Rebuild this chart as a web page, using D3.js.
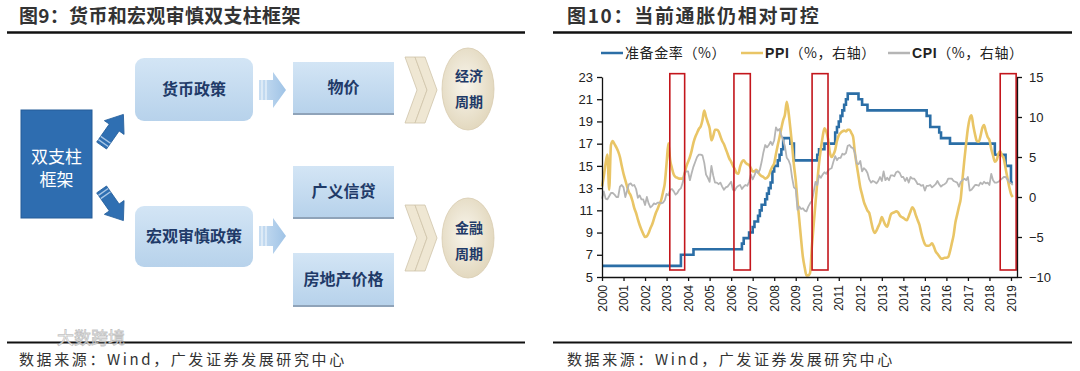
<!DOCTYPE html>
<html>
<head>
<meta charset="utf-8">
<script src="https://cdn.jsdelivr.net/npm/d3@7"></script>
<style>
  body { margin: 0; background: #fff; }
  svg { display: block; }
</style>
</head>
<body>
<svg id="page" width="1080" height="371"></svg>
<script>
"use strict";

// ---------- chart data ----------
const yearTicks = [2000, 2001, 2002, 2003, 2004, 2005, 2006, 2007, 2008, 2009,
  2010, 2011, 2012, 2013, 2014, 2015, 2016, 2017, 2018, 2019];
const leftTicks = [5, 7, 9, 11, 13, 15, 17, 19, 21, 23];
const rightTicks = [-10, -5, 0, 5, 10, 15];

// monthly, first value = 2000-01
const ppi = [
  1.3, 2.6, 4.2, 5.3, 0.9, 6.5, 7.0, 6.6, 6.2, 5.7, 5.0, 3.9,
  2.9, 2.1, 1.3, 0.6, 0.2, -0.5, -1.4, -2.0, -2.8, -3.5, -4.1, -4.6,
  -5.0, -4.9, -4.5, -3.9, -3.4, -2.7, -2.0, -1.5, -0.9, -0.4, 0.6, 1.7,
  4.2, 6.7, 4.6, 3.6, 2.8, 2.5, 2.4, 2.3, 2.3, 2.3, 2.9, 3.8,
  4.4, 5.0, 5.8, 6.8, 7.5, 8.0, 8.5, 8.8, 9.6, 10.8, 10.0, 9.3,
  8.6, 7.1, 7.6, 8.4, 8.4, 8.2, 7.6, 7.0, 6.6, 6.0, 5.4, 4.8,
  4.4, 3.9, 3.5, 3.0, 2.9, 3.8, 4.4, 4.6, 4.3, 4.1, 4.0, 3.6,
  3.2, 3.2, 3.4, 3.1, 2.8, 2.6, 2.5, 2.3, 2.4, 2.7, 3.3, 3.8,
  4.2, 5.4, 6.5, 7.5, 8.6, 9.6, 10.3, 11.9, 10.6, 8.6, 6.4, 4.0,
  2.1, -0.5, -2.9, -5.3, -7.5, -8.8, -9.8, -9.8, -9.5, -6.2, -3.5, -0.8,
  1.8, 4.2, 6.0, 7.5, 8.6, 8.2, 7.3, 5.6, 5.0, 5.3, 5.9, 7.0,
  7.7, 8.0, 8.2, 8.3, 8.2, 8.4, 8.4, 8.0, 7.5, 5.5, 4.0, 2.6,
  1.2, 0.3, -0.6, -1.2, -1.7, -2.0, -3.0, -4.0, -4.5, -4.2, -3.7, -3.2,
  -2.5, -3.0, -3.5, -3.7, -3.0, -2.2, -2.0, -1.9, -1.8, -1.9, -2.3, -2.5,
  -2.6, -2.8, -2.9, -2.4, -1.8, -1.3, -1.6, -2.3, -2.9, -3.5, -4.5, -5.3,
  -5.9, -6.1, -6.1, -6.0, -5.8, -6.2, -6.8, -7.1, -7.4, -7.7, -7.7, -7.6,
  -7.6, -7.5, -6.8, -5.8, -4.8, -3.2, -2.2, -1.2, -0.2, 2.3, 4.6, 6.7,
  8.6, 9.8, 10.2, 8.9, 7.8, 7.0, 6.9, 7.6, 8.6, 9.0, 8.2, 7.5,
  7.1, 6.0, 5.2, 4.4, 4.6, 5.4, 5.7, 5.2, 4.8, 3.6, 2.4, 1.3,
  0.4, 0.0
];

const cpi = [
  -0.2, 0.7, -0.2, -0.3, 0.1, 0.5, 0.5, 0.3, 0.0, 0.0, 1.3, 1.5,
  1.2, 0.0, 0.8, 1.6, 1.7, 1.4, 1.5, 1.0, -0.1, 0.2, -0.3, -0.3,
  -1.0, 0.0, -0.8, -1.3, -1.1, -0.8, -0.9, -0.7, -0.7, -0.8, -0.7, -0.4,
  0.4, 0.2, 0.9, 1.0, 0.7, 0.3, 0.5, 0.9, 1.1, 1.8, 3.0, 3.2,
  3.2, 2.1, 3.0, 3.8, 4.4, 5.0, 5.3, 5.3, 5.2, 4.3, 2.8, 2.4,
  1.9, 3.9, 2.7, 1.8, 1.8, 1.6, 1.8, 1.3, 0.9, 1.2, 1.3, 1.6,
  1.9, 0.9, 0.8, 1.2, 1.4, 1.5, 1.0, 1.3, 1.5, 1.4, 1.9, 2.8,
  2.2, 2.7, 3.3, 3.0, 3.4, 4.4, 5.6, 6.5, 6.2, 6.5, 6.9, 6.5,
  7.1, 8.7, 8.3, 8.5, 7.7, 7.1, 6.3, 4.9, 4.6, 4.0, 2.4, 1.2,
  1.0, -1.6, -1.2, -1.5, -1.4, -1.7, -1.8, -1.2, -0.8, -0.5, 0.6, 1.9,
  1.5, 2.7, 2.4, 2.8, 3.1, 2.9, 3.3, 3.5, 3.6, 4.4, 5.1, 4.6,
  4.9, 4.9, 5.4, 5.3, 5.5, 6.4, 6.5, 6.2, 6.1, 5.5, 4.2, 4.1,
  4.5, 3.2, 3.6, 3.4, 3.0, 2.2, 1.8, 2.0, 1.9, 1.7, 2.0, 2.5,
  2.0, 3.2, 2.1, 2.4, 2.1, 2.7, 2.7, 2.6, 3.1, 3.2, 3.0, 2.5,
  2.5, 2.0, 2.4, 1.8, 2.5, 2.3, 2.3, 2.0, 1.6, 1.6, 1.4, 1.5,
  0.8, 1.4, 1.4, 1.5, 1.2, 1.4, 1.6, 2.0, 1.6, 1.3, 1.5, 1.6,
  1.8, 2.3, 2.3, 2.3, 2.0, 1.9, 1.8, 1.3, 1.9, 2.1, 2.3, 2.1,
  2.5, 0.8, 0.9, 1.2, 1.5, 1.5, 1.4, 1.8, 1.6, 1.9, 1.7, 1.8,
  1.5, 2.9, 2.1, 1.8, 1.8, 1.9, 2.1, 2.3, 2.5, 2.5, 2.2, 1.9,
  1.7, 1.5
];

// reserve ratio: month of each change and the new level
const rrrDates = ["2000-01", "2003-09", "2004-04", "2006-07", "2006-08", "2006-11",
  "2007-01", "2007-02", "2007-04", "2007-05", "2007-06", "2007-08", "2007-09",
  "2007-10", "2007-11", "2007-12", "2008-01", "2008-03", "2008-04", "2008-05",
  "2008-06", "2008-10", "2008-12", "2010-01", "2010-02", "2010-05", "2010-11",
  "2010-12", "2011-01", "2011-02", "2011-03", "2011-04", "2011-05", "2011-06",
  "2011-12", "2012-02", "2012-05", "2015-02", "2015-04", "2015-09", "2015-10",
  "2016-03", "2018-04", "2018-10", "2019-01", "2019-02"];
const rrrValues = [6.0, 7.0, 7.5, 8.0, 8.5, 9.0,
  9.5, 10.0, 10.5, 11.0, 11.5, 12.0, 12.5,
  13.0, 13.5, 14.5, 15.0, 15.5, 16.0, 16.5,
  17.5, 17.0, 15.5, 16.0, 16.5, 17.0, 18.0,
  18.5, 19.0, 19.5, 20.0, 20.5, 21.0, 21.5,
  21.0, 20.5, 20.0, 19.5, 18.5, 18.0, 17.5,
  17.0, 16.0, 15.0, 13.5, 13.5];

// red boxes (decimal years) and their extent on the left axis
const boxStart = [2003.15, 2006.13, 2009.76, 2018.5];
const boxEnd = [2003.84, 2006.89, 2010.5, 2019.24];
const boxTop = 23.3;
const boxBottom = 5.63;

const legendLabels = ["准备金率（%）", "PPI（%，右轴）", "CPI（%，右轴）"];
const colors = { rrr: "#2b6ea6", ppi: "#e9c566", cpi: "#b5b5b5", box: "#c3161c" };

const CJK = "'Noto Sans CJK SC', sans-serif";
const LAT = "'Liberation Sans', Arial, sans-serif";

const svg = d3.select("#page");

// ---------- page frame: titles, rules, sources ----------
function frame(x0, x1, title, titleSize, spacing, tx) {
  svg.append("text")
    .attr("x", tx).attr("y", 23)
    .attr("font-family", CJK).attr("font-weight", "bold")
    .attr("font-size", titleSize).attr("letter-spacing", spacing)
    .attr("fill", "#333")
    .text(title);
  svg.append("line")
    .attr("x1", x0).attr("x2", x1).attr("y1", 32.5).attr("y2", 32.5)
    .attr("stroke", "#111").attr("stroke-width", 2.5);
  svg.append("line")
    .attr("x1", x0).attr("x2", x1).attr("y1", 342.5).attr("y2", 342.5)
    .attr("stroke", "#111").attr("stroke-width", 2);
  svg.append("text")
    .attr("x", tx).attr("y", 365)
    .attr("font-family", CJK).attr("font-size", 15).attr("letter-spacing", 2.6)
    .attr("fill", "#333")
    .text("数据来源：Wind，广发证券发展研究中心");
}
frame(7, 525, "图9：货币和宏观审慎双支柱框架", 19, 0.3, 19);
frame(553, 1072, "图10：当前通胀仍相对可控", 19, 1.7, 567);

// ---------- left: framework diagram ----------
const defs = svg.append("defs");
const lg = defs.append("linearGradient").attr("id", "boxGrad").attr("x1", 0).attr("y1", 0).attr("x2", 0).attr("y2", 1);
lg.append("stop").attr("offset", "0%").attr("stop-color", "#d3e5f5");
lg.append("stop").attr("offset", "100%").attr("stop-color", "#b7d2eb");
const rg = defs.append("radialGradient").attr("id", "circGrad").attr("cx", "45%").attr("cy", "45%").attr("r", "60%");
rg.append("stop").attr("offset", "0%").attr("stop-color", "#f8f5ec");
rg.append("stop").attr("offset", "100%").attr("stop-color", "#e1d6bb");
const ag = defs.append("linearGradient").attr("id", "arrGrad").attr("x1", 0).attr("y1", 0).attr("x2", 1).attr("y2", 0);
ag.append("stop").attr("offset", "0%").attr("stop-color", "#c9def2");
ag.append("stop").attr("offset", "100%").attr("stop-color", "#9fc3e6");

const diagram = svg.append("g").attr("font-family", CJK);

// main dark box
diagram.append("rect")
  .attr("x", 21).attr("y", 110).attr("width", 71).attr("height", 108)
  .attr("fill", "#2e6db0").attr("stroke", "#245c98").attr("stroke-width", 1);
[["双支柱", 163], ["框架", 186]].forEach(([t, y]) => {
  diagram.append("text")
    .attr("x", 56.5).attr("y", y).attr("text-anchor", "middle")
    .attr("font-size", 17).attr("fill", "#fff").text(t);
});

// blue diagonal arrows
function blockArrow(cx, cy, angle) {
  const g = diagram.append("g").attr("transform", `translate(${cx},${cy}) rotate(${angle})`);
  g.append("polygon")
    .attr("points", "-19,-6 3,-6 3,-12 19,0 3,12 3,6 -19,6")
    .attr("fill", "#2f6fb2").attr("stroke", "#27609c").attr("stroke-width", 0.8);
  [-16, -12].forEach(px => {
    g.append("line").attr("x1", px).attr("x2", px).attr("y1", -6).attr("y2", 6)
      .attr("stroke", "#a9c7e6").attr("stroke-width", 1.4);
  });
}
blockArrow(112.5, 130, -55);
blockArrow(112.5, 205, 55);

// light boxes
const boxes = [
  { label: "货币政策", x: 135, y: 58, w: 118, h: 63, r: 9 },
  { label: "宏观审慎政策", x: 135, y: 206, w: 118, h: 61, r: 9 },
  { label: "物价", x: 293, y: 62, w: 101, h: 51, r: 0 },
  { label: "广义信贷", x: 293, y: 166, w: 101, h: 51, r: 0 },
  { label: "房地产价格", x: 293, y: 253, w: 101, h: 52, r: 0 }
];
boxes.forEach(b => {
  if (b.r === 0) {
    diagram.append("rect")
      .attr("x", b.x).attr("y", b.y + 2).attr("width", b.w).attr("height", b.h)
      .attr("fill", "#8fa3b9");
  }
  diagram.append("rect")
    .attr("x", b.x).attr("y", b.y).attr("width", b.w).attr("height", b.h)
    .attr("rx", b.r).attr("fill", "url(#boxGrad)");
  diagram.append("text")
    .attr("x", b.x + b.w / 2).attr("y", b.y + b.h / 2 + 5.5)
    .attr("text-anchor", "middle").attr("font-size", 16).attr("font-weight", "bold")
    .attr("fill", "#1f3a68")
    .text(b.label);
});

// light right-pointing arrows
[90, 236].forEach(cy => {
  const g = diagram.append("g").attr("transform", `translate(259,${cy})`);
  g.append("polygon")
    .attr("points", "0,-10 14,-10 14,-18 27,0 14,18 14,10 0,10")
    .attr("fill", "url(#arrGrad)");
  [3, 7].forEach(px => {
    g.append("line").attr("x1", px).attr("x2", px).attr("y1", -10).attr("y2", 10)
      .attr("stroke", "#eef5fb").attr("stroke-width", 1.2);
  });
});

// double chevrons
[90, 238].forEach(cy => {
  const hh = 33;
  [0, 10].forEach(dx => {
    const x0 = 405 + dx;
    diagram.append("polygon")
      .attr("points", [[x0, cy - hh], [x0 + 10, cy - hh], [x0 + 22, cy], [x0 + 10, cy + hh], [x0, cy + hh], [x0 + 12, cy]].map(p => p.join(",")).join(" "))
      .attr("fill", "#efe7d3").attr("stroke", "#cfc4a9").attr("stroke-width", 0.8);
  });
});

// cycle ellipses
[{ cy: 89, ry: 41, lines: ["经济", "周期"], ty: [81, 107] },
 { cy: 238, ry: 40, lines: ["金融", "周期"], ty: [233, 259] }].forEach(c => {
  diagram.append("ellipse")
    .attr("cx", 468).attr("cy", c.cy).attr("rx", 26).attr("ry", c.ry)
    .attr("fill", "url(#circGrad)").attr("stroke", "#d8ccb0").attr("stroke-width", 0.8);
  c.lines.forEach((t, i) => {
    diagram.append("text")
      .attr("x", 469).attr("y", c.ty[i]).attr("text-anchor", "middle")
      .attr("font-size", 14).attr("font-weight", "bold").attr("fill", "#1f3a68").text(t);
  });
});

// faint watermark, kept above the source line
svg.append("text")
  .attr("x", 57).attr("y", 344)
  .attr("font-family", CJK).attr("font-size", 17)
  .attr("fill", "#fff").attr("fill-opacity", 0.8)
  .attr("stroke", "#999").attr("stroke-opacity", 0.6).attr("stroke-width", 0.8)
  .text("大数跨境");

// ---------- right: line chart ----------
const X0 = 602, X1 = 1017, YT = 77, YB = 277;
const x = d3.scaleLinear().domain([2000, 2019.28]).range([X0, X1]);
const yL = d3.scaleLinear().domain([5, 23]).range([YB, YT]);
const yR = d3.scaleLinear().domain([-10, 15]).range([YB, YT]);

const monthT = i => 2000 + i / 12;
const dateT = s => { const [yy, mm] = s.split("-").map(Number); return yy + (mm - 1) / 12; };

const plot = svg.append("g");

plot.append("path")
  .datum(rrrValues.map((v, i) => [dateT(rrrDates[i]), v]))
  .attr("fill", "none").attr("stroke", colors.rrr).attr("stroke-width", 2.6)
  .attr("d", d3.line().x(d => x(d[0])).y(d => yL(d[1])).curve(d3.curveStepAfter));

plot.append("path")
  .datum(ppi)
  .attr("fill", "none").attr("stroke", colors.ppi).attr("stroke-width", 2.6)
  .attr("stroke-linejoin", "round")
  .attr("d", d3.line().x((d, i) => x(monthT(i))).y(d => yR(d)).curve(d3.curveMonotoneX));

plot.append("path")
  .datum(cpi)
  .attr("fill", "none").attr("stroke", colors.cpi).attr("stroke-width", 1.8)
  .attr("stroke-linejoin", "round")
  .attr("d", d3.line().x((d, i) => x(monthT(i))).y(d => yR(d)));

plot.selectAll("rect.box")
  .data(boxStart.map((s, i) => [s, boxEnd[i]]))
  .enter().append("rect")
  .attr("class", "box")
  .attr("x", d => x(d[0])).attr("width", d => x(d[1]) - x(d[0]))
  .attr("y", yL(boxTop)).attr("height", yL(boxBottom) - yL(boxTop))
  .attr("fill", "none").attr("stroke", colors.box).attr("stroke-width", 1.6);

function styleAxis(g, size) {
  g.attr("font-family", LAT).attr("font-size", size);
  g.selectAll("path, line").attr("stroke", "#111").attr("stroke-width", 1.3);
  g.selectAll("text").attr("fill", "#222");
}

const gx = svg.append("g")
  .attr("transform", `translate(0,${YB})`)
  .call(d3.axisBottom(x).tickValues(yearTicks).tickFormat(d3.format("d")).tickSize(4).tickSizeOuter(0));
gx.selectAll("text")
  .attr("transform", "rotate(-90)")
  .attr("x", -8).attr("y", 0).attr("dy", "0.35em")
  .style("text-anchor", "end");
styleAxis(gx, 12);

const gl = svg.append("g")
  .attr("transform", `translate(${X0},0)`)
  .call(d3.axisLeft(yL).tickValues(leftTicks).tickSize(5).tickPadding(4).tickSizeOuter(0));
styleAxis(gl, 13);

const gr = svg.append("g")
  .attr("transform", `translate(${X1},0)`)
  .call(d3.axisRight(yR).tickValues(rightTicks).tickSize(5).tickPadding(7).tickSizeOuter(0));
styleAxis(gr, 13);

// legend
const legendX = [601, 741, 888];
const legendColors = [colors.rrr, colors.ppi, colors.cpi];
const legend = svg.append("g");
legendLabels.forEach((label, i) => {
  legend.append("line")
    .attr("x1", legendX[i]).attr("x2", legendX[i] + 22).attr("y1", 53).attr("y2", 53)
    .attr("stroke", legendColors[i]).attr("stroke-width", 2.5);
  const t = legend.append("text")
    .attr("x", legendX[i] + 24).attr("y", 58)
    .attr("font-family", CJK).attr("font-size", 14).attr("letter-spacing", 0.6)
    .attr("fill", "#222");
  const m = label.match(/^([A-Z]+)(.*)$/);
  if (m) {
    t.append("tspan").attr("font-family", LAT).attr("font-weight", "bold").text(m[1]);
    t.append("tspan").text(m[2]);
  } else {
    t.text(label);
  }
});
</script>
</body>
</html>
